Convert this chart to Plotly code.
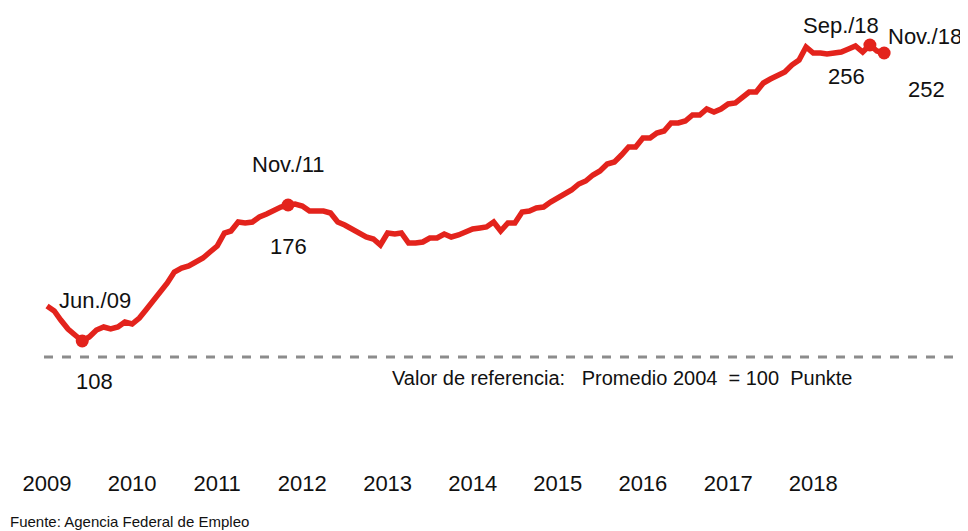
import pandas as pd
import plotly.graph_objects as go

months = pd.date_range("2009-01-01", "2018-11-01", freq="MS")
values = [
    125.5, 123, 118.5, 114, 111, 108, 110, 113.5, 115, 114, 115, 117.5,
    116.5, 119.5, 123.5, 128, 132.5, 137, 142.5, 144.5, 145.5, 147.5, 149.5, 152.5,
    155.5, 162, 163, 167.5, 167, 167.5, 170, 171.5, 173.5, 175, 176, 176.5,
    175.5, 173, 173, 173, 172, 167.5, 166, 164, 162.5, 160, 159, 156,
    162, 161.5, 162, 157, 157, 157.5, 159.5, 159.5, 161.5, 160, 161, 162.5,
    164, 164.5, 165, 167.5, 163, 167, 167, 172.5, 173, 174.5, 175, 177.5,
    179.5, 182, 183.5, 186.5, 188, 191, 193, 196.5, 197.5, 201, 205, 205,
    209.5, 209.5, 212, 213, 217, 217, 218, 221, 221, 224, 222.5, 224,
    226.5, 227, 229.5, 232.5, 232.5, 237, 239, 241, 242.5, 246, 248.5, 255,
    252, 252, 251.5, 252, 252.5, 254, 255.5, 252.5, 256, 253, 252,
]
highlight_dates = ["2009-06-01", "2011-11-01", "2018-09-01", "2018-11-01"]
highlight_names = ["Jun./09", "Nov./11", "Sep./18", "Nov./18"]
reference_value = 100
tick_years = [str(y) for y in range(2009, 2019)]

red = "#e3231c"
font = "Liberation Sans, Arial, sans-serif"

series = pd.Series(values, index=months)
hl_values = [series[pd.Timestamp(d)] for d in highlight_dates]

fig = go.Figure()
fig.add_trace(go.Scatter(x=months, y=values, mode="lines",
                         line=dict(color=red, width=5.5), hoverinfo="skip"))
fig.add_trace(go.Scatter(x=highlight_dates, y=hl_values, mode="markers",
                         marker=dict(color=red, size=13)))

fig.add_shape(type="line", xref="paper", x0=0, x1=1, y0=reference_value, y1=reference_value,
              line=dict(color="#8c8c8c", width=3, dash="dash"))

# label offsets in pixels: (name dx, name dy, value dx, value dy)
offsets = [(13, 41, 12, -40), (0, 41, 0, -41), (-29, 20, -23, -31), (41, 17, 42, -36)]
for d, v, name, (ndx, ndy, vdx, vdy) in zip(highlight_dates, hl_values, highlight_names, offsets):
    fig.add_annotation(x=d, y=v, text=name, showarrow=False, xshift=ndx, yshift=ndy,
                       font=dict(size=22, color="#111"))
    fig.add_annotation(x=d, y=v, text=f"{v:.0f}", showarrow=False, xshift=vdx, yshift=vdy,
                       font=dict(size=22, color="#111"))

fig.add_annotation(xref="paper", x=0.634, y=reference_value, yshift=-21, showarrow=False,
                   text="Valor de referencia:   Promedio 2004  = 100  Punkte",
                   font=dict(size=20, color="#111"))
fig.add_annotation(xref="paper", yref="paper", x=-0.0395, y=-0.126, xanchor="left",
                   yanchor="middle", showarrow=False,
                   text="Fuente: Agencia Federal de Empleo",
                   font=dict(size=15, color="#111"))

# page body has an 8px margin, so the figure is sized/offset to sit in the window
fig.update_layout(
    width=960, height=523,
    margin=dict(l=36, r=13, t=12, b=66),
    paper_bgcolor="white", plot_bgcolor="white",
    showlegend=False,
    font=dict(family=font, color="#111"),
    xaxis=dict(range=["2008-12-19", "2019-09-01"], showgrid=False, zeroline=False,
               tickvals=[f"{y}-01-01" for y in tick_years], ticktext=tick_years,
               tickfont=dict(size=22), ticks="", showline=False, ticklabelstandoff=3),
    yaxis=dict(range=[46, 268.5], visible=False),
)

fig.write_html("out.html")
